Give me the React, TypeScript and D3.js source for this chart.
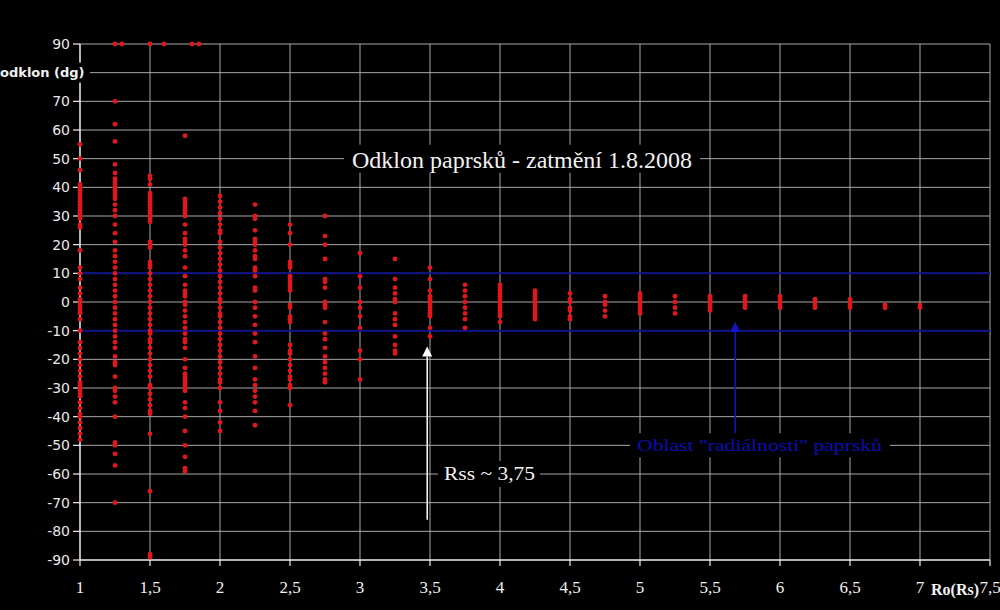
import React from "react";
import * as d3 from "d3";

const width = 1000;
const height = 610;

// axis ticks
const xTicks = [1, 1.5, 2, 2.5, 3, 3.5, 4, 4.5, 5, 5.5, 6, 6.5, 7, 7.5];
const yTicks = [-90, -80, -70, -60, -50, -40, -30, -20, -10, 0, 10, 20, 30, 40, 50, 60, 70, 80, 90];
const bandLimits = [10, -10];

// deflection (dg) measured at each distance Ro (Rs)
const odklon100 = [55, 50, 46, 41, 40, 39, 38, 37, 36, 35, 34, 33, 32, 31, 30, 29, 27, 26, 18, 12, 10, 8, 5, 3, 1, 0, -1, -2, -3, -4, -6, -10, -14, -16, -18, -20, -22, -24, -26, -28, -29, -30, -31, -32, -33, -35, -37, -39, -40, -42, -44, -46, -48];
const odklon125 = [70, 62, 56, 48, 45, 43, 42, 41, 40, 39, 38, 37, 36, 34, 32, 30, 27, 24, 21, 18, 16, 14, 12, 10, 8, 6, 4, 2, 0, -2, -4, -6, -8, -10, -12, -14, -16, -19, -21, -22, -26, -30, -31, -33, -35, -40, -49, -50, -53, -57, -70];
const odklon150 = [44, 43, 41, 38, 37, 36, 35, 34, 33, 32, 31, 30, 29, 28, 21, 20, 19, 14, 13, 12, 10, 8, 6, 4, 2, 0, -2, -4, -6, -8, -10, -11, -13, -14, -16, -18, -20, -22, -24, -26, -29, -30, -32, -34, -36, -38, -39, -46, -66, -88, -89];
const odklon175 = [58, 36, 35, 34, 33, 32, 31, 30, 27, 24, 22, 21, 20, 18, 16, 12, 9, 6, 4, 3, 2, 0, -1, -3, -5, -7, -9, -11, -13, -14, -16, -20, -23, -25, -26, -27, -28, -29, -30, -31, -35, -37, -40, -45, -50, -54, -58, -59];
const odklon200 = [37, 35, 33, 31, 29, 27, 25, 24, 21, 19, 17, 15, 13, 11, 9, 7, 5, 3, 1, 0, -2, -4, -5, -7, -9, -11, -13, -15, -17, -19, -21, -23, -25, -27, -28, -30, -35, -38, -42, -45];
const odklon225 = [34, 30, 29, 25, 22, 21, 20, 18, 16, 15, 12, 11, 9, 5, 4, 0, -2, -5, -8, -11, -14, -19, -23, -27, -29, -31, -33, -35, -38, -43];
const odklon250 = [27, 24, 20, 14, 13, 12, 9, 8, 7, 6, 5, 4, -1, -2, -5, -6, -7, -15, -17, -18, -20, -22, -24, -26, -27, -29, -30, -36];
const odklon275 = [30, 23, 20, 15, 8, 7, 5, 0, -1, -2, -7, -11, -13, -16, -19, -21, -23, -25, -27, -28];
const odklon300 = [17, 9, 5, 0, -2, -5, -9, -17, -20, -27];
const odklon325 = [15, 8, 5, 3, 1, 0, -4, -6, -8, -12, -15, -17, -18];
const odklon350 = [12, 8, 4, 2, 1, 0, -1, -2, -3, -4, -5, -9, -12];
const odklon375 = [6, 4, 2, 0, -2, -4, -6, -9];
const odklon400 = [6, 5, 4, 3, 2, 1, 0, -1, -2, -3, -4, -5, -7];
const odklon425 = [4, 3, 2, 1, 0, -1, -2, -3, -4, -5, -6];
const odklon450 = [3, 1, 0, -2, -3, -5, -6];
const odklon475 = [2, 0, -1, -3, -5];
const odklon500 = [3, 2, 1, 0, -1, -2, -3, -4];
const odklon525 = [2, 0, -2, -4];
const odklon550 = [2, 1, 0, -1, -2, -3];
const odklon575 = [2, 1, 0, -1, -2];
const odklon600 = [2, 1, 0, -1, -2];
const odklon625 = [1, 0, -1, -2];
const odklon650 = [1, 0, -1, -2];
const odklon675 = [-1, -2];
const odklon700 = [-1, -2];

// points clipped at the top of the scale
const saturatedRo = [1.25, 1.3, 1.5, 1.6, 1.8, 1.85];
const saturatedOdklon = 90;

const columns: [number, number[]][] = [
  [1, odklon100], [1.25, odklon125], [1.5, odklon150], [1.75, odklon175],
  [2, odklon200], [2.25, odklon225], [2.5, odklon250], [2.75, odklon275],
  [3, odklon300], [3.25, odklon325], [3.5, odklon350], [3.75, odklon375],
  [4, odklon400], [4.25, odklon425], [4.5, odklon450], [4.75, odklon475],
  [5, odklon500], [5.25, odklon525], [5.5, odklon550], [5.75, odklon575],
  [6, odklon600], [6.25, odklon625], [6.5, odklon650], [6.75, odklon675],
  [7, odklon700],
];

const x = d3.scaleLinear().domain([1, 7.5]).range([80, 990]);
const y = d3.scaleLinear().domain([-90, 90]).range([560, 44]);
const fmt = (v: number) => String(v).replace(".", ",");

const gridColor = "#a8a8a8";
const axisColor = "#f0f0f0";
const blue = "#10108c";
const serif = "'Liberation Serif', serif";

const App = () => {
  const points = columns.flatMap(([ro, vals]) => vals.map((v) => ({ ro, v })));
  saturatedRo.forEach((ro) => points.push({ ro, v: saturatedOdklon }));

  return (
    <svg width={width} height={height} style={{ position: "absolute", left: 0, top: 0 }}>
      <rect width={width} height={height} fill="#000" />

      {/* grid */}
      {yTicks.filter((t) => t > -90).map((t) => (
        <line key={"gy" + t} x1={x(1)} x2={x(7.5)} y1={y(t)} y2={y(t)} stroke={gridColor} strokeWidth={1} />
      ))}
      {xTicks.filter((t) => t > 1).map((t) => (
        <line key={"gx" + t} x1={x(t)} x2={x(t)} y1={y(90)} y2={y(-90)} stroke={gridColor} strokeWidth={1} />
      ))}

      {/* +-10 band */}
      {bandLimits.map((b) => (
        <line key={"b" + b} x1={x(1)} x2={x(7.5)} y1={y(b)} y2={y(b)} stroke={blue} strokeWidth={2} />
      ))}

      {/* axes */}
      <line x1={x(1)} x2={x(1)} y1={y(90)} y2={y(-90)} stroke={axisColor} strokeWidth={1.5} />
      <line x1={x(1)} x2={x(7.5)} y1={y(-90)} y2={y(-90)} stroke={axisColor} strokeWidth={1.5} />
      {yTicks.map((t) => (
        <line key={"ty" + t} x1={x(1) - 7} x2={x(1)} y1={y(t)} y2={y(t)} stroke={axisColor} strokeWidth={1.2} />
      ))}
      {xTicks.map((t) => (
        <line key={"tx" + t} x1={x(t)} x2={x(t)} y1={y(-90)} y2={y(-90) + 6} stroke={axisColor} strokeWidth={1.2} />
      ))}

      {/* data */}
      {points.map((p, i) => (
        <circle key={i} cx={x(p.ro)} cy={y(p.v)} r={2.4} fill="#e3161c" />
      ))}

      {/* tick labels */}
      <g fontFamily="'DejaVu Sans', sans-serif" fontSize={14} fill="#e8e8e8" textAnchor="end">
        {yTicks.filter((t) => t !== 80).map((t) => (
          <text key={"ly" + t} x={x(1) - 10} y={y(t)} dy="0.35em">{t}</text>
        ))}
      </g>
      <rect x={0} y={y(80) - 10} width={x(1) + 10} height={20} fill="#000" />
      <text x={0} y={y(80)} dy="0.35em" fontFamily="'DejaVu Sans', sans-serif" fontWeight="bold" fontSize={13} fill="#f0f0f0">
        odklon (dg)
      </text>

      <g fontFamily={serif} fontSize={17} fill="#f0f0f0" textAnchor="middle">
        {xTicks.map((t) => (
          <text key={"lx" + t} x={x(t)} y={y(-90) + 33}>{fmt(t)}</text>
        ))}
      </g>
      <text x={x(7.5) - 11} y={y(-90) + 35} textAnchor="end" fontFamily={serif} fontWeight="bold" fontSize={16} fill="#f0f0f0">
        Ro(Rs)
      </text>

      {/* title */}
      <rect x={344} y={y(50) - 14} width={356} height={28} fill="#000" />
      <text x={352} y={y(50) + 9} textLength={340} lengthAdjust="spacingAndGlyphs" fontFamily={serif} fontSize={23} fill="#f2f2f2">
        Odklon paprsků - zatmění 1.8.2008
      </text>

      {/* Rss annotation */}
      <line x1={x(3.48)} x2={x(3.48)} y1={y(-76)} y2={y(-19)} stroke="#fff" strokeWidth={1.5} />
      <path d={`M${x(3.48)},${y(-15.5)} l-5,10 l10,0 Z`} fill="#fff" />
      <rect x={438} y={y(-60) - 13} width={102} height={26} fill="#000" />
      <text x={444} y={y(-60) + 6} textLength={91} lengthAdjust="spacingAndGlyphs" fontFamily={serif} fontSize={19} fill="#f2f2f2">
        Rss ~ 3,75
      </text>

      {/* radial region annotation */}
      <line x1={x(5.68)} x2={x(5.68)} y1={y(-46.5)} y2={y(-10.5)} stroke="#1414c8" strokeWidth={1.5} />
      <path d={`M${x(5.68)},${y(-7)} l-5,10 l10,0 Z`} fill="#1414c8" />
      <rect x={630} y={y(-50) - 12} width={260} height={24} fill="#000" />
      <text x={637} y={y(-50) + 6} textLength={245} lengthAdjust="spacingAndGlyphs" fontFamily={serif} fontSize={17} fill="#0c0cb4">
        Oblast "radiálnosti" paprsků
      </text>
    </svg>
  );
};

export default App;
